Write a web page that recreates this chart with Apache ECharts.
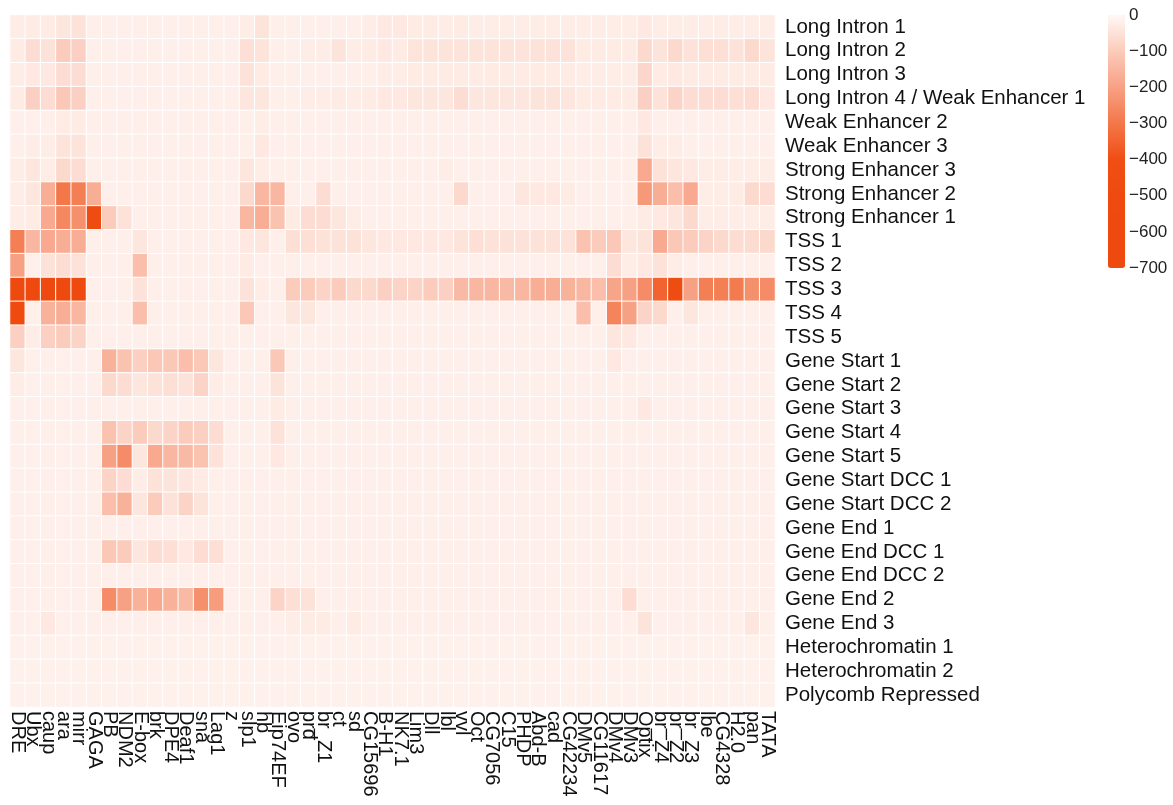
<!DOCTYPE html>
<html>
<head>
<meta charset="utf-8">
<title>Motif enrichment by chromatin state</title>
<script src="https://cdn.jsdelivr.net/npm/echarts@6/dist/echarts.min.js"></script>
<style>
  html, body { margin: 0; padding: 0; background: #ffffff; }
  #chart { width: 1173px; height: 805px; }
</style>
</head>
<body>
<div id="chart"></div>
<script>
// Chromatin states (rows, top to bottom)
const states = [
  'Long Intron 1', 'Long Intron 2', 'Long Intron 3', 'Long Intron 4 / Weak Enhancer 1',
  'Weak Enhancer 2', 'Weak Enhancer 3', 'Strong Enhancer 3', 'Strong Enhancer 2',
  'Strong Enhancer 1', 'TSS 1', 'TSS 2', 'TSS 3', 'TSS 4', 'TSS 5',
  'Gene Start 1', 'Gene Start 2', 'Gene Start 3', 'Gene Start 4', 'Gene Start 5',
  'Gene Start DCC 1', 'Gene Start DCC 2', 'Gene End 1', 'Gene End DCC 1',
  'Gene End DCC 2', 'Gene End 2', 'Gene End 3', 'Heterochromatin 1',
  'Heterochromatin 2', 'Polycomb Repressed'
];

// Sequence motifs (columns, left to right)
const motifs = [
  'DRE', 'Ubx', 'caup', 'ara', 'mirr', 'GAGA', 'PB', 'NDM2', 'E-box', 'brk',
  'DPE4', 'Deaf1', 'sna', 'Lag1', 'z', 'slp1', 'hb', 'Eip74EF', 'ovo', 'prd',
  'br_Z1', 'ct', 'sd', 'CG15696', 'B-H1', 'NK7.1', 'Lim3', 'Dll', 'lbl', 'vvl',
  'Oct', 'CG7056', 'C15', 'PHDP', 'Abd-B', 'cad', 'CG42234', 'DMv5', 'CG11617', 'DMv4',
  'DMv3', 'Optix', 'br_Z4', 'br_Z2', 'br_Z3', 'lbe', 'CG4328', 'H2.0', 'pan', 'TATA'
];

// Colour-scale ticks
const scaleTicks = [0, -100, -200, -300, -400, -500, -600, -700];

// Enrichment scores, one row per chromatin state (columns follow `motifs`)
const scores = [
  /* Long Intron 1 */ [-25,-30,-30,-40,-50,-20,-20,-20,-20,-20, -20,-20,-20,-20,-20,-25,-45,-20,-20,-20, -20,-20,-20,-25,-35,-35,-30,-30,-25,-30, -25,-25,-25,-25,-25,-25,-25,-25,-25,-25, -25,-35,-25,-25,-25,-25,-25,-25,-25,-25],
  /* Long Intron 2 */ [-30,-60,-50,-100,-90,-20,-20,-20,-20,-20, -20,-20,-20,-20,-20,-55,-45,-20,-20,-25, -25,-45,-25,-30,-35,-30,-45,-45,-45,-45, -45,-45,-45,-45,-50,-50,-50,-30,-30,-30, -30,-70,-45,-70,-50,-55,-55,-50,-70,-45],
  /* Long Intron 3 */ [-25,-35,-35,-60,-60,-20,-20,-20,-20,-20, -20,-20,-20,-20,-20,-50,-30,-20,-20,-20, -20,-20,-20,-20,-25,-25,-30,-30,-30,-30, -30,-30,-30,-30,-30,-30,-30,-25,-25,-25, -25,-75,-30,-35,-30,-30,-30,-30,-30,-30],
  /* Long Intron 4 / Weak Enhancer 1 */ [-30,-90,-60,-110,-90,-20,-20,-20,-20,-20, -20,-20,-20,-20,-20,-40,-40,-20,-20,-25, -25,-30,-25,-30,-35,-35,-40,-40,-40,-60, -40,-40,-40,-40,-45,-45,-40,-30,-30,-30, -30,-90,-50,-80,-60,-60,-60,-55,-60,-35],
  /* Weak Enhancer 2 */ [-20,-20,-20,-30,-30,-20,-20,-20,-20,-20, -20,-20,-20,-20,-20,-20,-25,-20,-20,-20, -20,-20,-20,-20,-20,-20,-20,-20,-20,-20, -20,-20,-20,-20,-20,-20,-20,-20,-20,-20, -20,-35,-20,-20,-20,-20,-20,-20,-20,-20],
  /* Weak Enhancer 3 */ [-20,-25,-25,-45,-45,-20,-20,-20,-20,-20, -20,-20,-20,-20,-20,-20,-35,-20,-20,-20, -20,-20,-20,-20,-20,-20,-20,-20,-20,-20, -20,-20,-20,-20,-20,-20,-20,-20,-20,-20, -20,-50,-25,-25,-20,-20,-20,-20,-20,-20],
  /* Strong Enhancer 3 */ [-25,-40,-25,-70,-60,-20,-20,-20,-20,-20, -20,-20,-20,-20,-20,-40,-25,-20,-20,-20, -20,-20,-20,-20,-20,-20,-20,-20,-25,-20, -20,-20,-20,-20,-20,-20,-20,-20,-20,-20, -20,-180,-50,-40,-35,-25,-25,-25,-25,-25],
  /* Strong Enhancer 2 */ [-25,-40,-170,-300,-280,-170,-20,-20,-20,-20, -20,-20,-20,-20,-20,-70,-150,-150,-20,-20, -60,-20,-20,-20,-20,-20,-20,-20,-20,-70, -20,-20,-20,-40,-35,-35,-30,-20,-20,-20, -20,-220,-170,-130,-180,-25,-25,-30,-70,-60],
  /* Strong Enhancer 1 */ [-25,-30,-180,-260,-240,-480,-100,-50,-20,-20, -20,-20,-20,-20,-20,-150,-170,-120,-30,-60, -60,-40,-25,-20,-20,-20,-20,-20,-20,-20, -20,-20,-20,-20,-20,-20,-20,-20,-20,-20, -20,-30,-35,-40,-70,-25,-25,-25,-25,-25],
  /* TSS 1 */ [-280,-150,-180,-170,-170,-20,-20,-20,-40,-20, -20,-20,-20,-20,-20,-35,-40,-20,-55,-55, -50,-50,-50,-40,-35,-35,-35,-35,-35,-45, -55,-50,-50,-50,-50,-50,-50,-120,-100,-110, -40,-45,-180,-110,-100,-80,-70,-60,-65,-70],
  /* TSS 2 */ [-200,-20,-50,-60,-50,-20,-20,-20,-130,-20, -20,-20,-20,-20,-20,-30,-20,-20,-20,-20, -20,-20,-20,-20,-20,-20,-20,-20,-20,-20, -20,-20,-20,-20,-20,-20,-20,-20,-20,-60, -25,-35,-50,-25,-20,-20,-20,-20,-20,-20],
  /* TSS 3 */ [-650,-650,-650,-650,-650,-20,-20,-20,-50,-20, -20,-20,-20,-20,-20,-50,-25,-20,-100,-100, -80,-100,-70,-70,-90,-80,-80,-100,-90,-140, -150,-150,-140,-150,-170,-170,-160,-150,-130,-190, -200,-250,-350,-460,-200,-280,-280,-290,-240,-250],
  /* TSS 4 */ [-550,-20,-160,-170,-150,-20,-20,-20,-130,-20, -20,-20,-20,-20,-20,-110,-20,-20,-40,-40, -20,-20,-20,-20,-20,-20,-20,-20,-20,-20, -20,-20,-20,-20,-20,-20,-20,-130,-20,-270, -200,-80,-70,-20,-40,-20,-20,-20,-20,-20],
  /* TSS 5 */ [-90,-25,-90,-100,-80,-20,-20,-20,-20,-20, -20,-20,-20,-20,-20,-20,-20,-20,-20,-20, -20,-20,-20,-20,-20,-20,-20,-20,-20,-20, -20,-20,-20,-20,-20,-20,-20,-20,-20,-40, -35,-20,-20,-20,-20,-20,-20,-20,-20,-20],
  /* Gene Start 1 */ [-40,-20,-20,-20,-20,-20,-160,-120,-90,-110, -110,-130,-110,-40,-20,-20,-20,-110,-20,-20, -20,-20,-20,-20,-20,-20,-20,-20,-20,-20, -20,-20,-20,-20,-20,-20,-20,-20,-20,-35, -20,-20,-20,-20,-20,-20,-20,-20,-20,-20],
  /* Gene Start 2 */ [-25,-20,-20,-20,-20,-20,-70,-60,-40,-50, -55,-50,-80,-25,-20,-20,-20,-45,-20,-20, -20,-20,-20,-20,-20,-20,-20,-20,-20,-20, -20,-20,-20,-20,-20,-20,-20,-20,-20,-20, -20,-20,-20,-20,-20,-20,-20,-20,-20,-20],
  /* Gene Start 3 */ [-20,-20,-20,-20,-20,-20,-20,-20,-20,-20, -20,-20,-20,-20,-20,-20,-20,-30,-20,-20, -20,-20,-20,-20,-20,-20,-20,-20,-20,-20, -20,-20,-20,-20,-20,-20,-20,-20,-20,-20, -20,-35,-20,-20,-20,-20,-20,-20,-20,-20],
  /* Gene Start 4 */ [-20,-20,-20,-20,-20,-20,-120,-80,-100,-70, -80,-100,-90,-60,-20,-20,-20,-50,-20,-20, -20,-20,-20,-20,-20,-20,-20,-20,-20,-20, -20,-20,-20,-20,-20,-20,-20,-20,-20,-20, -20,-20,-20,-20,-20,-20,-20,-20,-20,-20],
  /* Gene Start 5 */ [-20,-20,-20,-20,-20,-20,-200,-250,-40,-180, -150,-140,-120,-50,-20,-20,-20,-35,-20,-20, -20,-20,-20,-20,-20,-20,-20,-20,-20,-20, -20,-20,-20,-20,-20,-20,-20,-20,-20,-20, -20,-20,-20,-20,-20,-20,-20,-20,-20,-20],
  /* Gene Start DCC 1 */ [-20,-20,-20,-20,-20,-20,-80,-60,-25,-50, -45,-40,-30,-20,-20,-20,-20,-20,-20,-20, -20,-20,-20,-20,-20,-20,-20,-20,-20,-20, -20,-20,-20,-20,-20,-20,-20,-20,-20,-20, -20,-20,-20,-20,-20,-20,-20,-20,-20,-20],
  /* Gene Start DCC 2 */ [-20,-20,-20,-20,-20,-20,-130,-160,-40,-100, -50,-80,-45,-20,-20,-20,-20,-20,-20,-20, -20,-20,-20,-20,-20,-20,-20,-20,-20,-20, -20,-20,-20,-20,-20,-20,-20,-20,-20,-20, -20,-20,-20,-20,-20,-20,-20,-20,-20,-20],
  /* Gene End 1 */ [-20,-20,-20,-20,-20,-20,-20,-20,-20,-20, -20,-20,-20,-20,-20,-20,-20,-20,-20,-20, -20,-20,-20,-20,-20,-20,-20,-20,-20,-20, -20,-20,-20,-20,-20,-20,-20,-20,-20,-20, -20,-20,-20,-20,-20,-20,-20,-20,-20,-20],
  /* Gene End DCC 1 */ [-20,-20,-20,-20,-20,-20,-110,-100,-40,-60, -55,-35,-60,-55,-20,-20,-20,-20,-20,-20, -20,-20,-20,-20,-20,-20,-20,-20,-20,-20, -20,-20,-20,-20,-20,-20,-20,-20,-20,-20, -20,-20,-20,-20,-20,-20,-20,-20,-20,-20],
  /* Gene End DCC 2 */ [-20,-20,-20,-20,-20,-20,-20,-20,-20,-20, -20,-20,-20,-20,-20,-20,-20,-20,-20,-20, -20,-20,-20,-20,-20,-20,-20,-20,-20,-20, -20,-20,-20,-20,-20,-20,-20,-20,-20,-20, -20,-20,-20,-20,-20,-20,-20,-20,-20,-20],
  /* Gene End 2 */ [-20,-20,-20,-20,-20,-20,-250,-200,-160,-180, -160,-140,-240,-210,-20,-20,-20,-80,-55,-50, -20,-20,-20,-20,-20,-20,-20,-20,-20,-20, -20,-20,-20,-20,-20,-20,-20,-20,-20,-20, -60,-20,-20,-20,-20,-20,-20,-20,-20,-20],
  /* Gene End 3 */ [-20,-20,-35,-20,-20,-20,-20,-20,-20,-20, -20,-20,-20,-20,-20,-20,-20,-20,-25,-30, -30,-20,-30,-20,-20,-20,-20,-20,-20,-20, -20,-20,-20,-20,-20,-20,-20,-20,-20,-20, -20,-45,-20,-20,-20,-20,-20,-20,-40,-20],
  /* Heterochromatin 1 */ [-18,-18,-18,-18,-18,-18,-18,-18,-18,-18, -18,-18,-18,-18,-18,-18,-18,-18,-18,-18, -18,-18,-18,-18,-18,-18,-18,-18,-18,-18, -18,-18,-18,-18,-18,-18,-18,-18,-18,-18, -18,-18,-18,-18,-18,-18,-18,-18,-18,-18],
  /* Heterochromatin 2 */ [-18,-18,-18,-18,-18,-18,-18,-18,-18,-18, -18,-18,-18,-18,-18,-18,-18,-18,-18,-18, -18,-18,-18,-18,-18,-18,-18,-18,-18,-18, -18,-18,-18,-18,-18,-18,-18,-18,-18,-18, -18,-18,-18,-18,-18,-18,-18,-18,-18,-18],
  /* Polycomb Repressed */ [-18,-18,-18,-18,-18,-18,-18,-18,-18,-18, -18,-18,-18,-18,-18,-18,-18,-18,-18,-18, -18,-18,-18,-18,-18,-18,-18,-18,-18,-18, -18,-18,-18,-18,-18,-18,-18,-18,-18,-18, -18,-18,-18,-18,-18,-18,-18,-18,-18,-18]
];

// Flatten into [motifIndex, stateIndex, score] triples for the heatmap series
const cells = [];
scores.forEach((row, r) => row.forEach((v, c) => cells.push([c, r, v])));

const FONT = '"Liberation Sans", Arial, Helvetica, sans-serif';

const chart = echarts.init(document.getElementById('chart'), null, { renderer: 'canvas' });

chart.setOption({
  animation: false,
  backgroundColor: '#ffffff',
  grid: [
    { left: 10, top: 15, right: 398, bottom: 98 },
    { left: 1108, top: 15, width: 17, height: 253 }
  ],
  xAxis: [
    {
      type: 'category', data: motifs, gridIndex: 0, position: 'bottom',
      axisLine: { show: false }, axisTick: { show: false }, splitLine: { show: false },
      axisLabel: { rotate: -90, interval: 0, margin: 4, fontSize: 20, color: '#111', fontFamily: FONT }
    },
    { type: 'value', gridIndex: 1, show: false }
  ],
  yAxis: [
    {
      type: 'category', data: states, gridIndex: 0, position: 'right', inverse: true,
      axisLine: { show: false }, axisTick: { show: false }, splitLine: { show: false },
      axisLabel: { interval: 0, margin: 10, fontSize: 20.5, color: '#111', fontFamily: FONT }
    },
    {
      type: 'value', gridIndex: 1, position: 'right', min: -700, max: 0, interval: 100,
      axisLine: { show: false }, axisTick: { show: false }, splitLine: { show: false },
      axisLabel: {
        margin: 4, fontSize: 17, color: '#222', fontFamily: FONT,
        formatter: v => (scaleTicks.includes(v) ? String(v).replace('-', '\u2212') : '')
      }
    }
  ],
  visualMap: {
    type: 'continuous', min: -700, max: 0, seriesIndex: 0,
    orient: 'vertical', left: 1108, top: 15, padding: 0,
    itemWidth: 17, itemHeight: 253, calculable: false, text: ['', ''],
    inRange: {
      color: ['#ee4a10', '#ee4a10', '#ef4b11', '#f04e14', '#f37749', '#f7a184', '#fbcbbb', '#fff8f6']
    }
  },
  series: [
    {
      type: 'heatmap', xAxisIndex: 0, yAxisIndex: 0, data: cells,
      itemStyle: { borderColor: '#ffffff', borderWidth: 1 },
      emphasis: { disabled: true }
    }
  ]
});
</script>
</body>
</html>
